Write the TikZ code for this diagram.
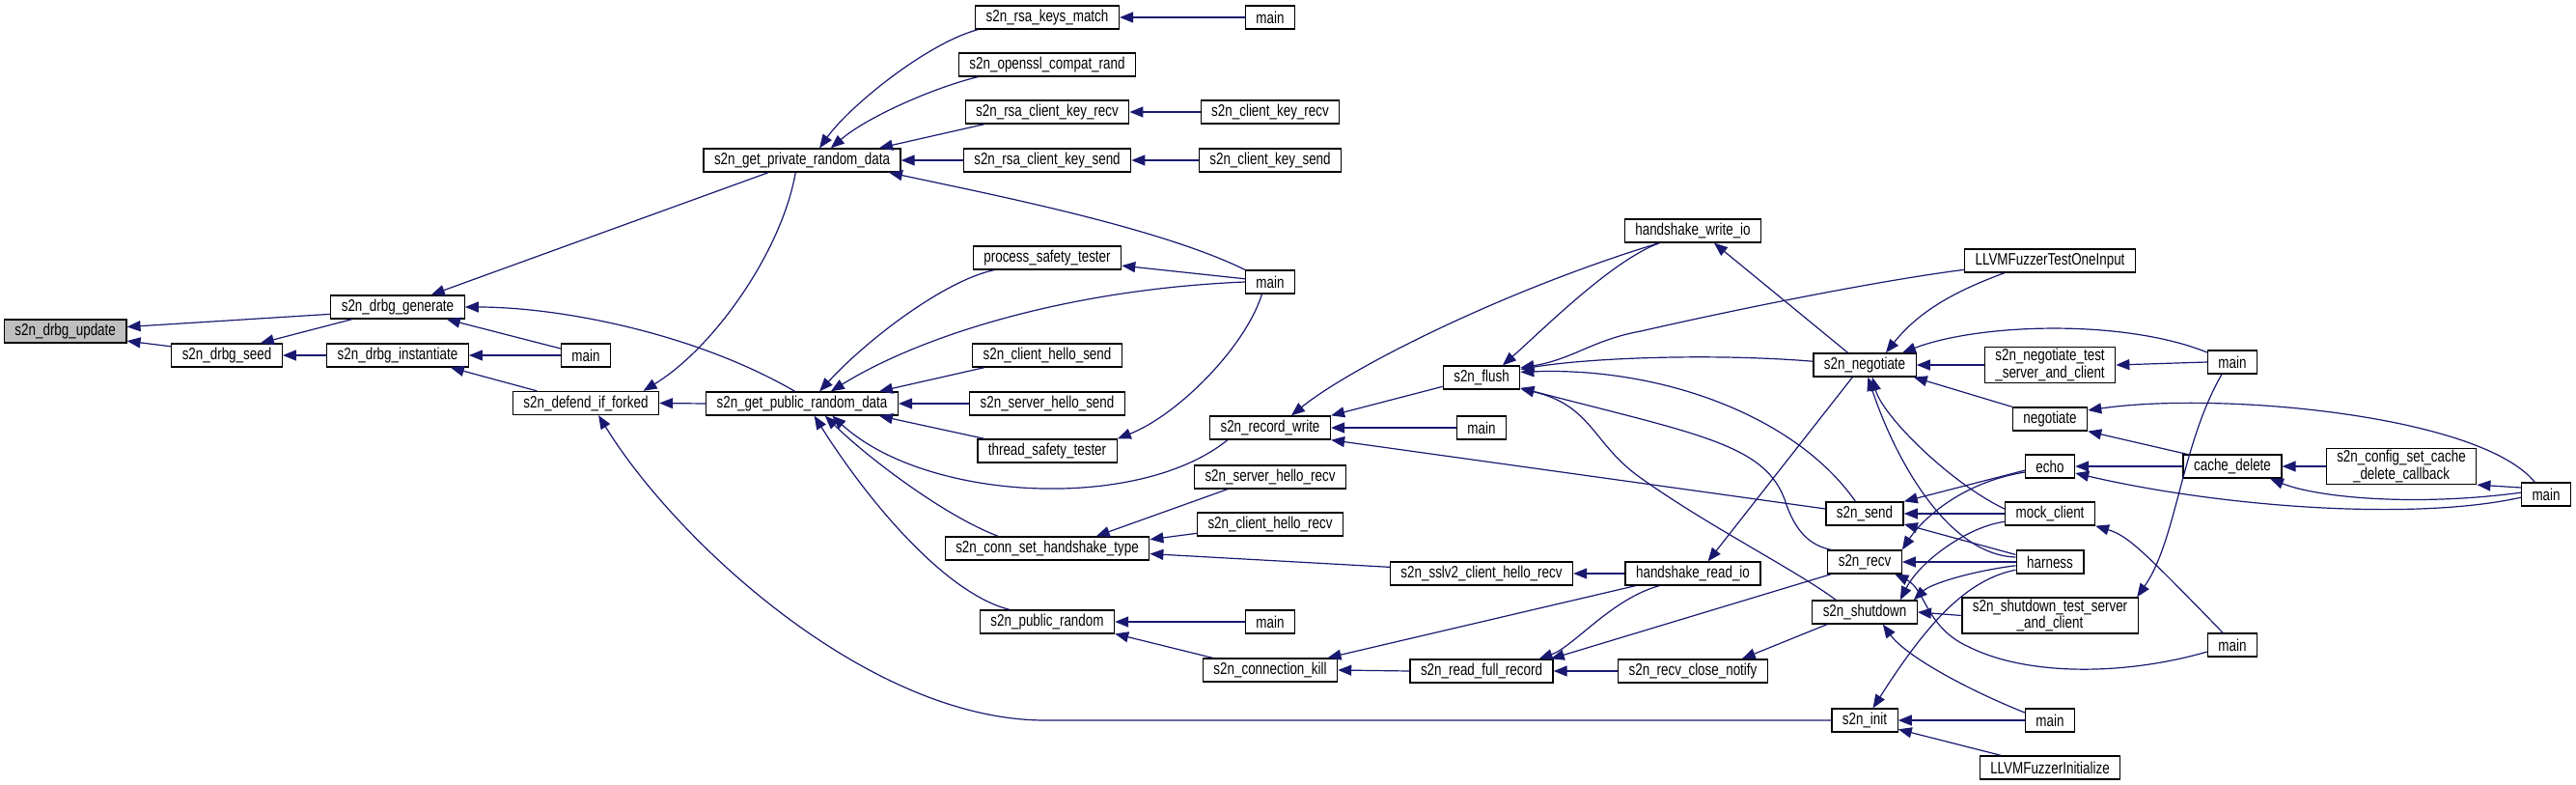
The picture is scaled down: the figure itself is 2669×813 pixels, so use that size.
\documentclass[tikz,border=0pt]{standalone}
\usepackage{fontspec}
\setmainfont{Liberation Sans}[FakeStretch=0.78]
\usetikzlibrary{arrows.meta}
\definecolor{eblue}{HTML}{191970}
\definecolor{startgray}{HTML}{BFBFBF}
\begin{document}
\begin{tikzpicture}[x=0.5pt,y=-0.5pt,
  fn/.style={draw=black, line width=0.65pt, fill=white, rectangle, inner xsep=5.5pt, inner ysep=0pt,
    minimum height=12pt, font=\fontsize{8.6pt}{7pt}\selectfont},
  fn2/.style={fn, align=center, minimum height=18.5pt},
  cl/.style={draw=eblue, line width=0.6pt, {Triangle[length=7pt,width=5.5pt]}-}]
\fill[white] (0,0) rectangle (2669,813);
\useasboundingbox (0,0) rectangle (2669,813);
% nodes
\node[fn,fill=startgray] (upd) at (67.7,343) {s2n\_drbg\_update};
\node[fn] (gen) at (412,318) {s2n\_drbg\_generate};
\node[fn] (seed) at (235,368) {s2n\_drbg\_seed};
\node[fn] (inst) at (412,368) {s2n\_drbg\_instantiate};
\node[fn] (m1) at (607,368) {main};
\node[fn] (fork) at (607,417.5) {s2n\_defend\_if\_forked};
\node[fn] (priv) at (831,166) {s2n\_get\_private\_random\_data};
\node[fn] (pub) at (831,418) {s2n\_get\_public\_random\_data};
\node[fn] (rkm) at (1085,18) {s2n\_rsa\_keys\_match};
\node[fn] (ocr) at (1085,67) {s2n\_openssl\_compat\_rand};
\node[fn] (rckr) at (1085,116) {s2n\_rsa\_client\_key\_recv};
\node[fn] (rcks) at (1085,166) {s2n\_rsa\_client\_key\_send};
\node[fn] (pst) at (1085,267) {process\_safety\_tester};
\node[fn] (chs) at (1085,368) {s2n\_client\_hello\_send};
\node[fn] (shs) at (1085,418) {s2n\_server\_hello\_send};
\node[fn] (tst) at (1085,467) {thread\_safety\_tester};
\node[fn] (csht) at (1085,568) {s2n\_conn\_set\_handshake\_type};
\node[fn] (prnd) at (1085,644) {s2n\_public\_random};
\node[fn] (m2) at (1316,18) {main};
\node[fn] (ckr) at (1316,116) {s2n\_client\_key\_recv};
\node[fn] (cks) at (1316,166) {s2n\_client\_key\_send};
\node[fn] (m3) at (1316,292) {main};
\node[fn] (rw) at (1316,443) {s2n\_record\_write};
\node[fn] (shr) at (1316,494) {s2n\_server\_hello\_recv};
\node[fn] (chr) at (1316,543) {s2n\_client\_hello\_recv};
\node[fn] (m4) at (1316,644) {main};
\node[fn] (ck) at (1316,694) {s2n\_connection\_kill};
\node[fn] (hwio) at (1754,239) {handshake\_write\_io};
\node[fn] (flush) at (1535,391) {s2n\_flush};
\node[fn] (m5) at (1535,443) {main};
\node[fn] (sslv2) at (1535,594) {s2n\_sslv2\_client\_hello\_recv};
\node[fn] (rfr) at (1535,695) {s2n\_read\_full\_record};
\node[fn] (hrio) at (1754,594) {handshake\_read\_io};
\node[fn] (rcn) at (1754,695) {s2n\_recv\_close\_notify};
\node[fn] (neg) at (1932,378) {s2n\_negotiate};
\node[fn] (send) at (1932,532) {s2n\_send};
\node[fn] (recv) at (1932,582) {s2n\_recv};
\node[fn] (shut) at (1932,634) {s2n\_shutdown};
\node[fn] (init) at (1932,746) {s2n\_init};
\node[fn] (llvmt) at (2124,270) {LLVMFuzzerTestOneInput};
\node[fn2] (negt) at (2124,378) {s2n\_negotiate\_test\\\_server\_and\_client};
\node[fn] (negot) at (2124,434) {negotiate};
\node[fn] (echo) at (2124,483) {echo};
\node[fn] (mock) at (2124,532) {mock\_client};
\node[fn] (harn) at (2124,582) {harness};
\node[fn2] (shutt) at (2124,637.5) {s2n\_shutdown\_test\_server\\\_and\_client};
\node[fn] (m9) at (2124,746) {main};
\node[fn] (llvmi) at (2124,795) {LLVMFuzzerInitialize};
\node[fn] (m6) at (2313,375) {main};
\node[fn] (cdel) at (2313,483) {cache\_delete};
\node[fn] (m8) at (2313,668) {main};
\node[fn2] (cfg) at (2488,483) {s2n\_config\_set\_cache\\\_delete\_callback};
\node[fn] (m7) at (2638,512) {main};
% edges
\draw[cl] (upd.4) -- (gen.186);
\draw[cl] (upd.-9) -- (seed.171);
\draw[cl] (seed.20) -- (gen.195);
\draw[cl] (seed.east) -- (inst.west);
\draw[cl] (gen.20) -- (priv.-160);
\draw[cl] (gen.east) .. controls (580,318) and (720,345) .. (pub.120);
\draw[cl] (gen.-14) -- (m1.165);
\draw[cl] (inst.east) -- (m1.west);
\draw[cl] (inst.-13) -- (fork.166);
\draw[cl] (fork.12) .. controls (740,360) and (810,260) .. (priv.-118);
\draw[cl] (fork.east) -- (pub.west);
\draw[cl] (fork.-44) .. controls (700,560) and (900,746) .. (1083,746) -- (init.west);
\draw[cl] (priv.35) .. controls (880,110) and (960,45) .. (rkm.190);
\draw[cl] (priv.23) .. controls (900,120) and (970,90) .. (ocr.190);
\draw[cl] (priv.9) -- (rckr.191);
\draw[cl] (priv.east) -- (rcks.west);
\draw[cl] (priv.-8.5) .. controls (1020,200) and (1200,235) .. (m3.north west);
\draw[cl] (rkm.east) -- (m2.west);
\draw[cl] (rckr.east) -- (ckr.west);
\draw[cl] (rcks.east) -- (cks.west);
\draw[cl] (pub.35) .. controls (900,350) and (980,290) .. (pst.193);
\draw[cl] (pub.23) .. controls (950,350) and (1100,300) .. (m3.west);
\draw[cl] (pub.9) -- (chs.191);
\draw[cl] (pub.east) -- (shs.west);
\draw[cl] (pub.-9.4) -- (tst.169);
\draw[cl] (pub.-22) .. controls (960,520) and (1180,530) .. (rw.196);
\draw[cl] (pub.-28) .. controls (900,475) and (980,535) .. (csht.166);
\draw[cl] (pub.-45) .. controls (900,520) and (980,615) .. (prnd.162);
\draw[cl] (pst.-6) -- (m3.173);
\draw[cl] (tst.north east) .. controls (1220,430) and (1290,360) .. (m3.-124);
\draw[cl] (csht.14) -- (shr.196);
\draw[cl] (csht.5.5) -- (chr.187);
\draw[cl] (csht.-3) -- (sslv2.176);
\draw[cl] (prnd.east) -- (m4.west);
\draw[cl] (prnd.-10.5) -- (ck.168);
\draw[cl] (ck.12) -- (hrio.192);
\draw[cl] (ck.east) -- (rfr.west);
\draw[cl] (rw.30) .. controls (1400,380) and (1560,300) .. (hwio.200);
\draw[cl] (rw.north east) -- (flush.193);
\draw[cl] (rw.east) -- (m5.west);
\draw[cl] (rw.south east) -- (send.173);
\draw[cl] (sslv2.east) -- (hrio.west);
\draw[cl] (rfr.12.5) .. controls (1630,670) and (1670,620) .. (hrio.200);
\draw[cl] (rfr.10) -- (recv.200);
\draw[cl] (rfr.east) -- (rcn.west);
\draw[cl] (rcn.14) -- (shut.198);
\draw[cl] (hwio.-30) -- (neg.144);
\draw[cl] (hrio.39) -- (neg.225);
\draw[cl] (flush.30) .. controls (1600,340) and (1670,270) .. (hwio.200);
\draw[cl] (flush.12) .. controls (1650,370) and (1780,366) .. (neg.176);
\draw[cl] (flush.14) .. controls (1630,372) and (1650,352) .. (1700,343) .. controls (1800,320) and (1950,290) .. (llvmt.186);
\draw[cl] (flush.8) .. controls (1720,380) and (1860,430) .. (send.127);
\draw[cl] (flush.-15) .. controls (1760,450) and (1830,460) .. (1850,520) .. controls (1860,550) and (1875,565) .. (recv.160);
\draw[cl] (flush.-16) .. controls (1650,420) and (1650,460) .. (1700,495) .. controls (1770,545) and (1860,590) .. (shut.157);
\draw[cl] (neg.30) .. controls (1990,320) and (2030,300) .. (llvmt.195);
\draw[cl] (neg.18) .. controls (2050,335) and (2200,330) .. (m6.159);
\draw[cl] (neg.east) -- (negt.west);
\draw[cl] (neg.-14) -- (negot.north west);
\draw[cl] (neg.-58) .. controls (1950,430) and (2020,500) .. (mock.174);
\draw[cl] (neg.-75) .. controls (1965,480) and (2020,575) .. (harn.172);
\draw[cl] (send.north east) -- (echo.189);
\draw[cl] (send.east) -- (mock.west);
\draw[cl] (send.-15) -- (harn.168);
\draw[cl] (recv.north east) .. controls (1990,540) and (2030,500) .. (echo.193);
\draw[cl] (recv.east) -- (harn.west);
\draw[cl] (recv.-22) .. controls (1995,610) and (1995,650) .. (2040,670) .. controls (2100,700) and (2200,700) .. (m8.195);
\draw[cl] (shut.19) .. controls (1990,580) and (2040,545) .. (mock.190);
\draw[cl] (shut.14) .. controls (2000,605) and (2040,592) .. (harn.186);
\draw[cl] (shut.east) -- (shutt.west);
\draw[cl] (shut.-34) .. controls (1975,680) and (2040,715) .. (m9.163);
\draw[cl] (init.56) .. controls (2000,640) and (2040,600) .. (harn.193);
\draw[cl] (init.east) -- (m9.west);
\draw[cl] (init.-15) -- (llvmi.166);
\draw[cl] (negt.east) -- (m6.west);
\draw[cl] (shutt.12.5) .. controls (2255,560) and (2260,460) .. (m6.-131);
\draw[cl] (negot.13) .. controls (2300,405) and (2570,430) .. (m7.133);
\draw[cl] (negot.south east) -- (cdel.165);
\draw[cl] (echo.east) -- (cdel.west);
\draw[cl] (cdel.east) -- (cfg.west);
\draw[cl] (cdel.-18) .. controls (2400,515) and (2500,525) .. (m7.176);
\draw[cl] (echo.-15) .. controls (2300,525) and (2500,540) .. (m7.187);
\draw[cl] (cfg.south east) -- (m7.165);
\draw[cl] (mock.south east) .. controls (2205,555) and (2220,570) .. (m8.128);
\end{tikzpicture}
\end{document}
